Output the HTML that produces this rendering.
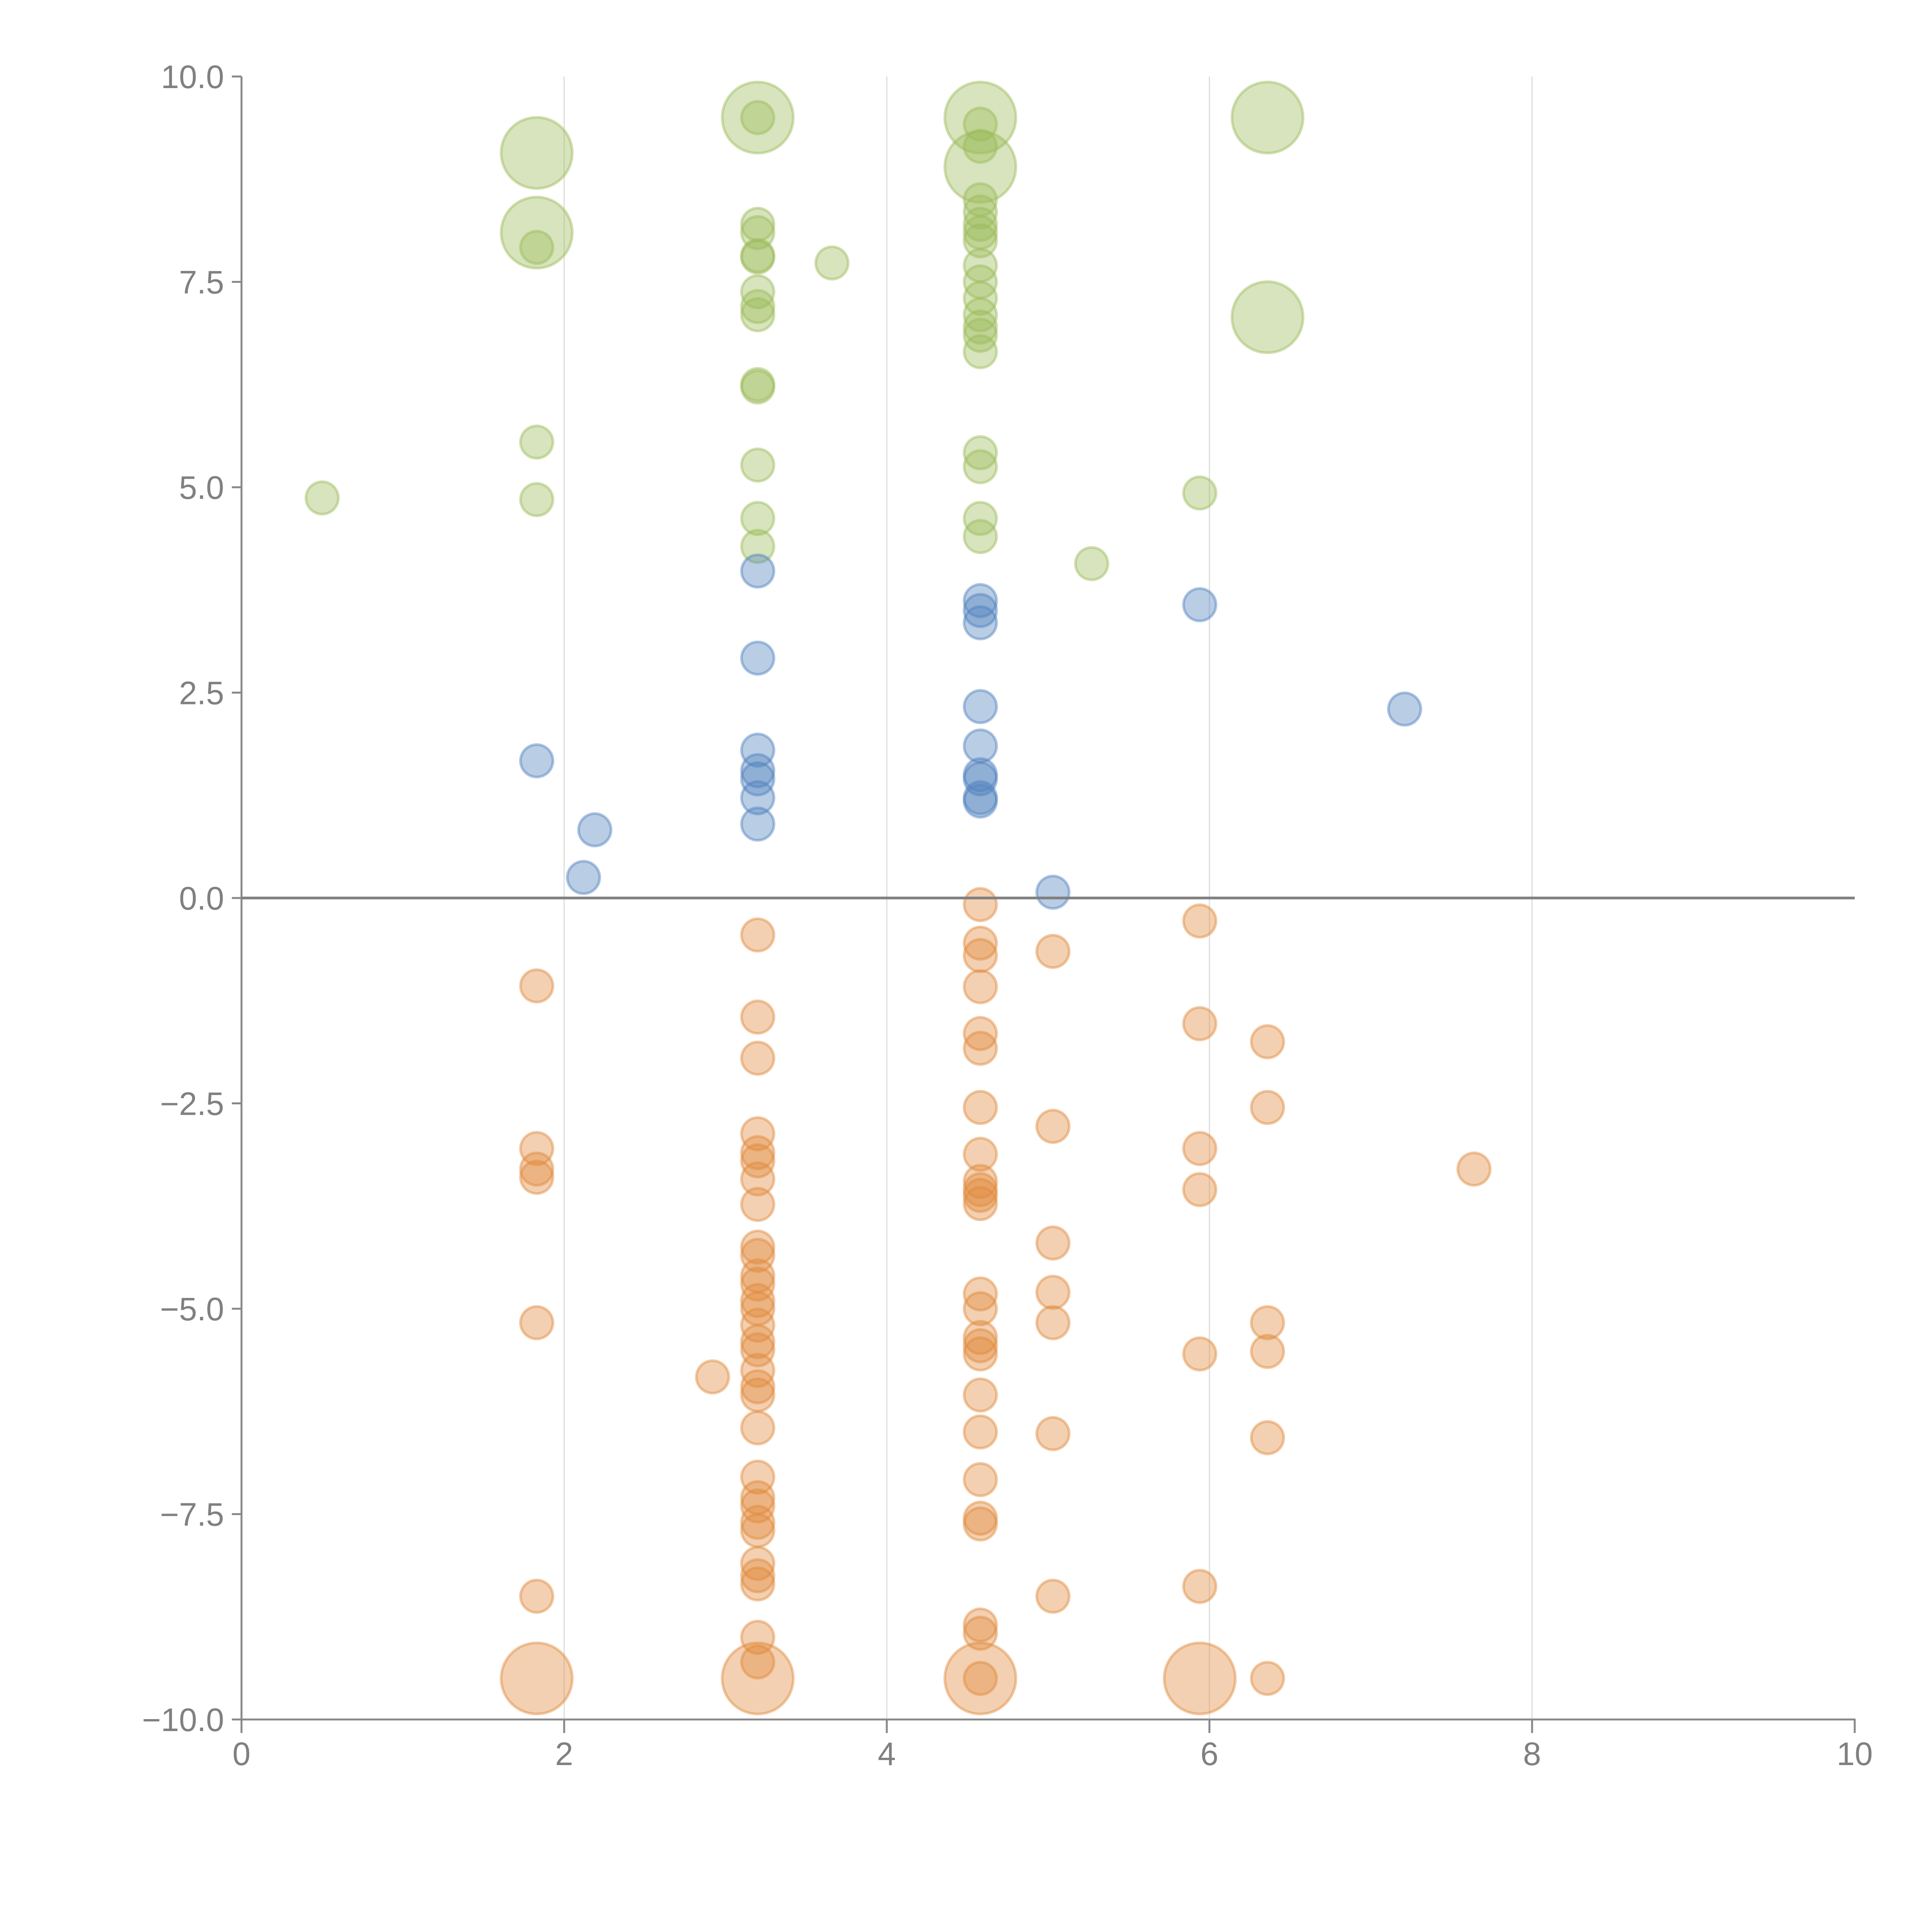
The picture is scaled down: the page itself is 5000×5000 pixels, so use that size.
<!DOCTYPE html>
<html><head><meta charset="utf-8"><style>
html,body{margin:0;padding:0;background:#fff;}
svg{display:block;}
text{font-family:"Liberation Sans",Arial,sans-serif;fill:#808080;}
</style></head><body>
<svg id="chart" width="5000" height="5000" viewBox="0 0 5000 5000" xmlns="http://www.w3.org/2000/svg">
<g id="grid"></g>
<g id="marks"></g>
<g id="axes"></g>
</svg>
<script>
const xTicks=[0,2,4,6,8,10];
const yTicks=[-10,-7.5,-5,-2.5,0,2.5,5,7.5,10];
const yTickLabels=["\u221210.0","\u22127.5","\u22125.0","\u22122.5","0.0","2.5","5.0","7.5","10.0"];
const greenX=[0.5,1.83,1.83,1.83,1.83,1.83,3.2,3.2,3.2,3.2,3.2,3.2,3.2,3.2,3.2,3.2,3.2,3.2,3.2,3.2,3.66,4.58,4.58,4.58,4.58,4.58,4.58,4.58,4.58,4.58,4.58,4.58,4.58,4.58,4.58,4.58,4.58,4.58,4.58,4.58,4.58,5.27,5.94,6.36,6.36];
const greenY=[4.87,9.07,8.1,7.92,5.55,4.85,9.5,9.5,8.2,8.1,7.82,7.8,7.38,7.2,7.1,6.25,6.22,5.27,4.62,4.28,7.73,9.5,8.9,9.42,9.15,8.5,8.35,8.2,8.1,8.0,7.7,7.5,7.3,7.1,6.95,6.85,6.65,5.42,5.25,4.62,4.4,4.07,4.93,9.5,7.07];
const greenSize=[1,2,2,1,1,1,2,1,1,1,1,1,1,1,1,1,1,1,1,1,1,2,2,1,1,1,1,1,1,1,1,1,1,1,1,1,1,1,1,1,1,1,1,2,2];
const blueX=[1.83,2.19,2.12,3.2,3.2,3.2,3.2,3.2,3.2,3.2,4.58,4.58,4.58,4.58,4.58,4.58,4.58,4.58,4.58,5.03,5.94,7.21];
const blueY=[1.67,0.83,0.25,3.98,2.92,1.8,1.55,1.45,1.22,0.9,3.62,3.5,3.35,2.33,1.85,1.5,1.45,1.22,1.18,0.07,3.57,2.3];
const orangeX=[1.83,1.83,1.83,1.83,1.83,1.83,1.83,
3.2,3.2,3.2,3.2,3.2,3.2,3.2,3.2,3.2,3.2,3.2,3.2,3.2,3.2,3.2,3.2,3.2,3.2,3.2,3.2,3.2,3.2,3.2,3.2,3.2,3.2,3.2,3.2,3.2,3.2,3.2,3.2,
2.92,
4.58,4.58,4.58,4.58,4.58,4.58,4.58,4.58,4.58,4.58,4.58,4.58,4.58,4.58,4.58,4.58,4.58,4.58,4.58,4.58,4.58,4.58,4.58,4.58,4.58,4.58,
5.03,5.03,5.03,5.03,5.03,5.03,5.03,
5.94,5.94,5.94,5.94,5.94,5.94,5.94,
6.36,6.36,6.36,6.36,6.36,6.36,
7.64];
const orangeY=[-1.07,-3.05,-3.3,-3.4,-5.17,-8.5,-9.5,
-0.45,-1.45,-1.95,-2.87,-3.1,-3.2,-3.42,-3.73,-4.25,-4.35,-4.6,-4.7,-4.9,-5.0,-5.2,-5.4,-5.5,-5.75,-5.95,-6.05,-6.45,-7.05,-7.3,-7.4,-7.6,-7.7,-8.1,-8.25,-8.35,-9.0,-9.3,-9.5,
-5.83,
-0.08,-0.55,-0.7,-1.08,-1.65,-1.83,-2.55,-3.12,-3.45,-3.55,-3.62,-3.72,-4.82,-5.0,-5.35,-5.45,-5.55,-6.05,-6.5,-7.08,-7.55,-7.62,-8.85,-8.95,-9.5,-9.5,
-0.65,-2.78,-4.2,-4.8,-5.17,-6.52,-8.5,
-0.28,-1.53,-3.05,-3.55,-5.55,-8.38,-9.5,
-1.75,-2.55,-5.17,-5.52,-6.57,-9.5,
-3.3];
const orangeSize=[1,1,1,1,1,1,2,
1,1,1,1,1,1,1,1,1,1,1,1,1,1,1,1,1,1,1,1,1,1,1,1,1,1,1,1,1,1,1,2,
1,
1,1,1,1,1,1,1,1,1,1,1,1,1,1,1,1,1,1,1,1,1,1,1,1,1,2,
1,1,1,1,1,1,1,
1,1,1,1,1,1,2,
1,1,1,1,1,1,
1];

const X0=625,X1=4800,Y0=4450,Y1=198;
const sx=v=>X0+(v-0)/(10-0)*(X1-X0);
const sy=v=>Y0-(v+10)/20*(Y0-Y1);
const NS="http://www.w3.org/2000/svg";
function mk(tag,parent,attrs){const e=document.createElementNS(NS,tag);for(const k in attrs)e.setAttribute(k,attrs[k]);parent.appendChild(e);return e;}
const grid=document.getElementById('grid'),marks=document.getElementById('marks'),axes=document.getElementById('axes');

xTicks.forEach(t=>{
  if(t>0&&t<10){
    const l=mk('line',grid,{x1:sx(t),x2:sx(t),y1:Y1,y2:Y0,stroke:'#dcdcdc','stroke-width':3});
    
    
  }
});

function drawSeries(xs,ys,sizes,color,name){
  xs.forEach((x,i)=>{
    const big=sizes&&sizes[i]===2;
    const c=mk('circle',marks,{cx:sx(x),cy:sy(ys[i]),r:big?92:42,fill:color,'fill-opacity':0.4,stroke:color,'stroke-opacity':0.45,'stroke-width':7});
    
    
  });
}
drawSeries(greenX,greenY,greenSize,'#9bbb59','green-bubble');
drawSeries(blueX,blueY,null,'#4f81bd','blue-bubble');
drawSeries(orangeX,orangeY,orangeSize,'#e08a3c','orange-bubble');

// axes
let a=mk('line',axes,{x1:X0,x2:X0,y1:Y1,y2:Y0+35,stroke:'#888','stroke-width':5});


a=mk('line',axes,{x1:X0-25,x2:X1+2,y1:Y0,y2:Y0,stroke:'#888','stroke-width':5});


a=mk('line',axes,{x1:X0,x2:X1,y1:sy(0),y2:sy(0),stroke:'#808080','stroke-width':7});



xTicks.forEach(t=>{
  const tk=mk('line',axes,{x1:sx(t),x2:sx(t),y1:Y0,y2:Y0+35,stroke:'#888','stroke-width':5});
  
  
  const tx=mk('text',axes,{x:sx(t),y:Y0+118,'font-size':84,'text-anchor':'middle'});
  tx.textContent=String(t);
  
  
});
yTicks.forEach((t,i)=>{
  const tk=mk('line',axes,{x1:X0-25,x2:X0,y1:sy(t),y2:sy(t),stroke:'#888','stroke-width':5});
  
  
  const tx=mk('text',axes,{x:X0-45,y:sy(t)+30,'font-size':84,'text-anchor':'end'});
  tx.textContent=yTickLabels[i];
  
  
});
</script>
</body></html>
